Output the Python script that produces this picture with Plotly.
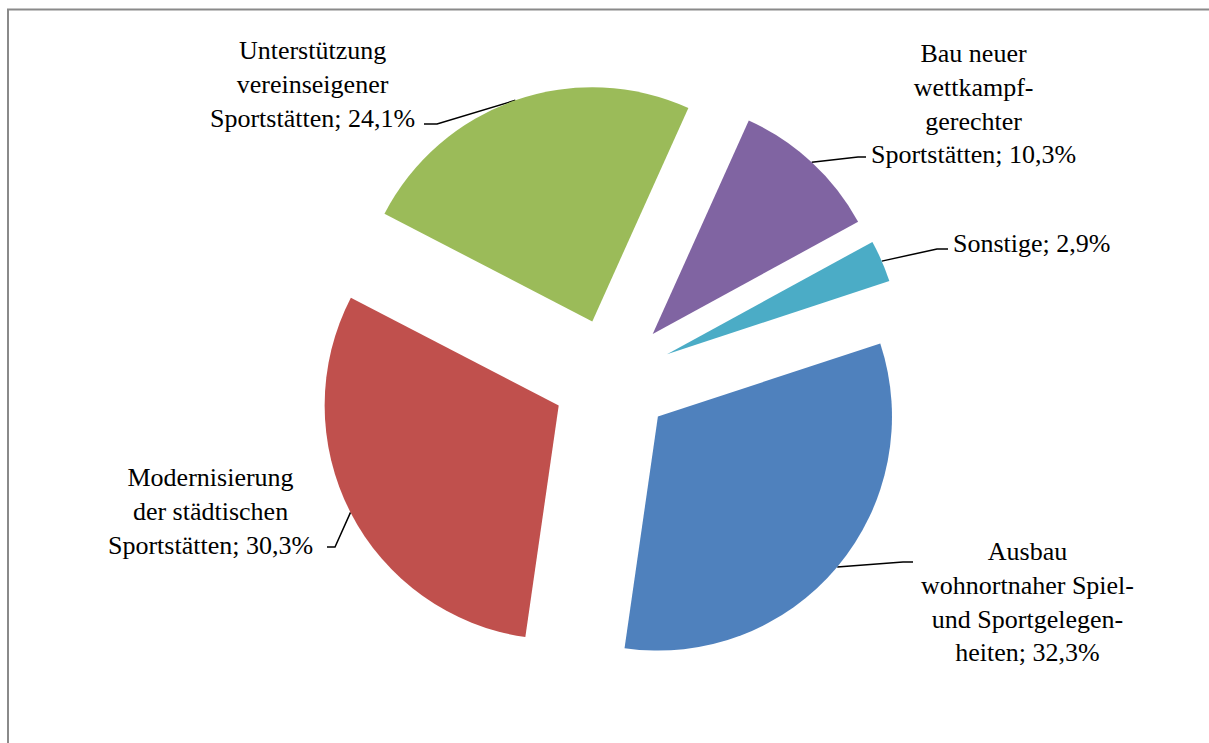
import numpy as np
import plotly.graph_objects as go

# Funding priorities (share of answers, %)
categories = [
    ["Ausbau", "wohnortnaher Spiel-", "und Sportgelegen-", "heiten"],
    ["Modernisierung", "der städtischen", "Sportstätten"],
    ["Unterstützung", "vereinseigener", "Sportstätten"],
    ["Bau neuer", "wettkampf-", "gerechter", "Sportstätten"],
    ["Sonstige"],
]
values = [32.3, 30.3, 24.1, 10.3, 2.9]
colors = ["#4F81BD", "#C0504D", "#9BBB59", "#8064A2", "#4BACC6"]

W, H = 1209, 743
DOM_X = [312 / W, 912 / W]
DOM_Y = [1 - 672 / H, 1 - 84 / H]
PULL = 0.256
ROTATION = 71.8
FONT = "Liberation Serif, Times New Roman, serif"

# label placement (pixels): centre / anchor, elbow and end of each leader line
label_pos = [(1027, 602, "center"), (210, 511, "center"), (312, 84, "center"),
             (973, 104, "center"), (951, 243, "left")]
leader_elbow = [(903, 562), (335, 547), (437, 124), (858, 157), (937, 249)]
leader_end = [(913, 562), (327, 547), (424, 124), (866, 157), (948, 249)]


def fmt_pct(v):
    return f"{v:.1f}".replace(".", ",") + "%"


texts = ["<br>".join(lines) + "; " + fmt_pct(v) for lines, v in zip(categories, values)]

# pie geometry, same rules plotly uses to lay out the trace
box_w = W * (DOM_X[1] - DOM_X[0])
box_h = H * (DOM_Y[1] - DOM_Y[0])
r = min(box_w, box_h) / 2 / (1 + PULL)
cx = W * (DOM_X[0] + DOM_X[1]) / 2
cy = H * (1 - DOM_Y[0]) - box_h / 2

vals = np.array(values)
frac = vals / vals.sum()
before = np.concatenate([[0], np.cumsum(frac)[:-1]])
mid = np.deg2rad(ROTATION + 360 * (before + frac / 2))
arc_x = cx + (1 + PULL) * r * np.sin(mid)
arc_y = cy - (1 + PULL) * r * np.cos(mid)

fig = go.Figure()

fig.add_trace(go.Pie(
    values=values,
    labels=[" ".join(c) for c in categories],
    sort=False,
    direction="clockwise",
    rotation=ROTATION,
    pull=PULL,
    textinfo="none",
    hoverinfo="skip",
    marker=dict(colors=colors, line=dict(width=0)),
    domain=dict(x=DOM_X, y=DOM_Y),
    showlegend=False,
))

for i in range(len(values)):
    fig.add_trace(go.Scatter(
        x=[arc_x[i], leader_elbow[i][0], leader_end[i][0]],
        y=[arc_y[i], leader_elbow[i][1], leader_end[i][1]],
        mode="lines",
        line=dict(color="#000000", width=1.5),
        hoverinfo="skip",
        showlegend=False,
    ))
    lx, ly, anchor = label_pos[i]
    fig.add_annotation(
        x=lx, y=ly, xref="x", yref="y",
        text=texts[i], showarrow=False,
        xanchor=anchor, yanchor="middle", align="center",
        font=dict(family=FONT, size=26, color="#000000"),
    )

# chart frame
fig.add_shape(type="line", x0=7, x1=W, y0=9.5, y1=9.5, xref="x", yref="y",
              line=dict(color="#8a8a8a", width=2))
fig.add_shape(type="line", x0=8, x1=8, y0=9, y1=H, xref="x", yref="y",
              line=dict(color="#8a8a8a", width=2))

fig.update_layout(
    width=W, height=H,
    margin=dict(l=0, r=0, t=0, b=0),
    paper_bgcolor="white", plot_bgcolor="white",
    font=dict(family=FONT),
    xaxis=dict(range=[0, W], visible=False, domain=[0, 1], fixedrange=True),
    yaxis=dict(range=[H, 0], visible=False, domain=[0, 1], fixedrange=True),
    hovermode=False,
)

fig.write_html("out.html")
